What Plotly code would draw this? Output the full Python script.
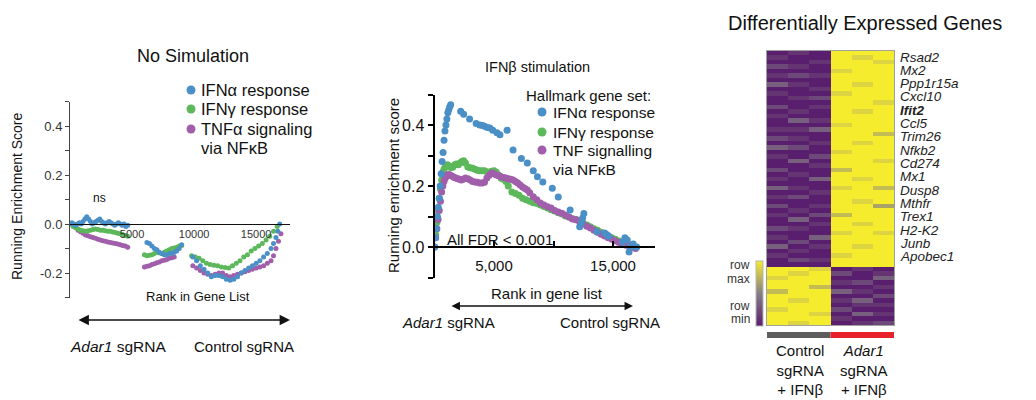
import plotly.graph_objects as go

W, H = 1036, 400
OFF = 8  # page body margin offset in the browser
def fx(p): return (p - OFF) / W
def fy(p): return 1 - (p - OFF) / H

FONT = "Liberation Sans, Arial, sans-serif"
BLUE, GREEN, PURPLE = "#4a8fc6", "#5cb85a", "#a15eab"

# ---------------- Panel 1: No stimulation (rank, running ES) ----------------
p1_blue = [(0,0.0),(150,0.005),(300,0.0),(450,-0.005),(600,0.0),(750,0.005),(900,0.0),(1050,0.01),
           (1200,0.02),(1350,0.03),(1500,0.02),(1650,0.01),(1800,0.0),(1950,0.005),(2100,0.01),(2250,0.015),
           (2400,0.02),(2550,0.01),(2700,0.005),(2850,0.0),(3000,0.005),(3150,0.01),(3300,0.005),(3450,0.0),
           (3600,-0.005),(3750,0.0),(3900,0.005),(4050,0.0),(4200,-0.005),(4350,0.0),(4500,-0.01),(4650,-0.005),
           (6200,-0.075),(6400,-0.08),(6600,-0.09),(6800,-0.1),(7000,-0.105),(7200,-0.115),(7400,-0.12),
           (7600,-0.125),(7800,-0.125),(8000,-0.12),(8200,-0.12),(8400,-0.115),(8600,-0.11),(8800,-0.1),(9000,-0.085),
           (9900,-0.135),(10200,-0.15),(10500,-0.17),(10800,-0.185),(11100,-0.2),(11400,-0.215),(11700,-0.21),
           (12000,-0.21),(12300,-0.215),(12600,-0.225),(12900,-0.23),(13200,-0.225),(13500,-0.215),(13800,-0.2),
           (14100,-0.19),(14400,-0.18),(14700,-0.17),(15000,-0.16),(15300,-0.15),(15600,-0.135),(15900,-0.12),
           (16200,-0.1),(16400,-0.08),(16600,-0.055),(16750,-0.03),(16900,0.0)]
p1_green = [(250,-0.01),(450,-0.015),(650,-0.02),(850,-0.025),(1050,-0.028),(1250,-0.03),(1450,-0.028),
            (1650,-0.025),(1850,-0.022),(2050,-0.02),(2250,-0.022),(2450,-0.025),(2650,-0.025),(2850,-0.028),
            (3050,-0.03),(3250,-0.03),(3450,-0.033),(3650,-0.035),(3850,-0.038),(4050,-0.04),(4250,-0.043),
            (4450,-0.047),(4650,-0.05),
            (6000,-0.125),(6200,-0.13),(6400,-0.128),(6600,-0.125),(6800,-0.12),(7000,-0.115),(7200,-0.118),
            (7400,-0.12),(7600,-0.115),(7800,-0.11),(8000,-0.105),(8200,-0.1),(8400,-0.098),(8600,-0.095),
            (8800,-0.09),(9000,-0.088),
            (9800,-0.13),(10100,-0.135),(10400,-0.14),(10700,-0.15),(11000,-0.16),(11300,-0.165),(11600,-0.168),
            (11900,-0.17),(12200,-0.175),(12500,-0.178),(12800,-0.18),(13100,-0.17),(13400,-0.16),(13700,-0.15),
            (14000,-0.135),(14300,-0.125),(14600,-0.11),(14900,-0.1),(15200,-0.09),(15500,-0.08),(15800,-0.065),
            (16100,-0.05),(16400,-0.03),(16700,-0.01)]
p1_purple = [(650,-0.025),(850,-0.032),(1050,-0.038),(1250,-0.045),(1450,-0.048),(1650,-0.052),(1850,-0.055),
             (2050,-0.058),(2250,-0.062),(2450,-0.065),(2650,-0.068),(2850,-0.07),(3050,-0.073),(3250,-0.076),
             (3450,-0.078),(3650,-0.08),(3850,-0.082),(4050,-0.085),(4250,-0.088),(4450,-0.09),(4650,-0.095),
             (6000,-0.175),(6200,-0.172),(6400,-0.17),(6600,-0.165),(6800,-0.162),(7000,-0.158),(7200,-0.155),
             (7400,-0.15),(7600,-0.148),(7800,-0.145),(8000,-0.14),(8200,-0.138),(8400,-0.135),
             (9900,-0.17),(10200,-0.18),(10500,-0.19),(10800,-0.2),(11100,-0.205),(11400,-0.21),(11700,-0.205),
             (12000,-0.2),(12300,-0.2),(12600,-0.21),(12900,-0.215),(13200,-0.21),(13500,-0.205),(13800,-0.2),
             (14100,-0.195),(14400,-0.19),(14700,-0.185),(15000,-0.18),(15300,-0.175),(15600,-0.17),(15900,-0.16),
             (16200,-0.15),(16400,-0.13),(16600,-0.1),(16800,-0.07),(17000,-0.04)]

# ---------------- Panel 2: IFNb stimulation ----------------
p2_blue = [(0,0.0),(80,0.03),(160,0.06),(240,0.1),(320,0.13),(400,0.16),(480,0.2),(560,0.24),(640,0.28),
           (720,0.31),(800,0.35),(880,0.38),(960,0.4),(1040,0.42),(1120,0.44),(1200,0.45),(1280,0.46),(1360,0.466),
           (2200,0.445),(2450,0.435),(2950,0.42),(3500,0.405),(3800,0.4),(4050,0.398),(4250,0.395),(4450,0.392),
           (4650,0.39),(4900,0.383),(5250,0.375),(5500,0.368),(6100,0.383),(6600,0.318),(7300,0.29),(7800,0.275),
           (8300,0.25),(8650,0.23),(9100,0.213),(9900,0.193),(10400,0.164),(11400,0.121),(12200,0.066),
           (12350,0.08),(12450,0.095),(12550,0.11),(13650,0.05),(14300,0.046),(14500,0.04),(14650,0.035),
           (15800,0.016),(16000,0.03),(16200,0.023),(16350,-0.016),(16500,0.0),(16700,0.01),(17000,0.0)]
p2_green = [(0,0.0),(100,0.04),(200,0.08),(300,0.12),(400,0.16),(500,0.19),(600,0.22),(700,0.245),(800,0.255),
            (900,0.262),(1000,0.265),(1100,0.27),(1250,0.265),(1400,0.26),(1550,0.262),(1700,0.27),(1850,0.272),
            (2000,0.27),(2150,0.275),(2300,0.28),(2450,0.283),(2600,0.275),(2800,0.262),(3000,0.26),(3200,0.258),
            (3400,0.255),(3600,0.252),(3800,0.25),(4000,0.25),(4200,0.25),(4400,0.247),(4600,0.245),(4800,0.248),
            (5000,0.25),(5200,0.245),(5400,0.235),(5600,0.225),(5800,0.222),(6000,0.215),(6200,0.2),(6500,0.18),
            (6800,0.175),(7100,0.17),(7400,0.16),(7700,0.155),(8000,0.15),(8300,0.145),(8600,0.143),(8900,0.138),
            (9200,0.133),(9500,0.128),(9800,0.122),(10100,0.118),(10400,0.112),(10700,0.108),(11000,0.102),
            (11300,0.098),(11600,0.093),(11900,0.09),(12200,0.085),(12500,0.078),(12800,0.072),(13100,0.066),
            (13400,0.06),(13700,0.055),(14000,0.048),(14300,0.04),(14600,0.035),(14900,0.03),(15200,0.025),
            (15500,0.02),(15800,0.015),(16100,0.01),(16400,0.005),(16700,0.0)]
p2_purple = [(0,0.0),(100,0.03),(200,0.06),(300,0.09),(400,0.12),(500,0.15),(600,0.18),(700,0.2),(800,0.215),
             (900,0.225),(1000,0.232),(1100,0.236),(1200,0.238),(1350,0.235),(1500,0.232),(1650,0.228),
             (1800,0.226),(1950,0.224),(2100,0.222),(2250,0.22),(2400,0.222),(2600,0.226),(2800,0.224),
             (3000,0.22),(3200,0.215),(3400,0.213),(3600,0.212),(3800,0.21),(4000,0.21),(4200,0.212),(4400,0.226),
             (4600,0.235),(4800,0.243),(5000,0.24),(5200,0.236),(5400,0.234),(5600,0.23),(5800,0.228),(6000,0.226),
             (6200,0.224),(6400,0.222),(6600,0.22),(6800,0.215),(7000,0.21),(7200,0.203),(7400,0.197),(7600,0.192),
             (7800,0.187),(8000,0.178),(8300,0.165),(8600,0.155),(8900,0.144),(9200,0.138),(9500,0.132),
             (9800,0.128),(10100,0.12),(10400,0.115),(10700,0.111),(11000,0.105),(11300,0.098),(11600,0.092),
             (11900,0.089),(12200,0.082),(12500,0.075),(12800,0.068),(13100,0.062),(13400,0.055),(13700,0.048),
             (14000,0.042),(14300,0.036),(14600,0.03),(14900,0.025),(15200,0.02),(15500,0.015),(15800,0.01),
             (16100,0.006),(16400,0.003),(16700,0.0),(16900,-0.005)]

# ---------------- Panel 3: heatmap (0 = row min, 9 = row max) ----------------
heat_columns = ["Ctrl 1", "Ctrl 2", "Ctrl 3", "Adar1 1", "Adar1 2", "Adar1 3"]
heat_up_rows = [
    [0,1,0,9,9,9],[1,0,0,9,8,9],[0,0,1,9,9,8],[2,1,0,9,9,9],[0,0,0,8,9,9],[1,2,1,9,9,9],
    [0,0,0,9,9,9],[3,1,0,9,8,9],[0,0,1,9,9,9],[1,0,0,8,9,9],[0,1,2,9,9,9],[0,0,0,9,9,8],
    [2,0,1,9,9,9],[0,1,0,9,8,9],[1,0,0,9,9,9],[0,3,1,9,9,9],[0,0,0,8,9,9],[1,1,3,9,9,9],
    [0,0,0,9,9,7],[2,1,0,9,9,9],[0,0,1,9,8,9],[3,2,0,9,9,9],[0,0,0,8,9,9],[1,0,2,9,9,9],
    [0,3,0,9,9,8],[0,0,1,9,9,9],[2,0,0,7,9,9],[0,1,0,9,9,9],[1,0,3,9,8,9],[0,0,0,9,9,9],
    [3,1,0,8,9,7],[0,0,1,9,9,9],[1,2,0,9,9,9],[0,0,0,9,8,9],[2,0,1,9,9,6],[0,1,0,9,9,9],
    [1,0,2,7,9,9],[0,3,0,9,9,9],[0,0,1,9,8,9],[2,1,0,9,9,9],[0,0,0,8,9,8],[1,0,3,9,9,9],
    [0,2,0,9,9,9],[3,0,1,9,8,9],[0,1,0,9,9,9],[1,0,0,8,9,9],[0,2,1,9,9,9],[0,0,0,9,9,9]]
heat_down_rows = [
    [9,9,8,0,1,0],[9,8,9,2,0,1],[8,9,9,0,0,3],[9,9,9,1,2,0],[9,9,7,0,0,1],[7,9,9,3,1,0],
    [9,9,9,0,0,2],[9,8,9,1,3,0],[9,9,9,0,1,1],[8,9,9,2,0,0],[9,9,8,0,3,1],[9,9,9,1,0,0],
    [9,8,9,0,1,2]]
gene_labels = ["Rsad2","Mx2","Ppp1r15a","Cxcl10","<b>Ifit2</b>","Ccl5","Trim26","Nfkb2","Cd274",
               "Mx1","Dusp8","Mthfr","Trex1","H2-K2","Junb","Apobec1"]

legend1_labels = ["IFNα response", "IFNγ response", "TNFα signaling"]
legend2_labels = ["IFNα response", "IFNγ response", "TNF signalling"]

fig = go.Figure()

def add(series, color, size, xa, ya):
    fig.add_trace(go.Scatter(x=[p[0] for p in series], y=[p[1] for p in series], mode="markers",
                             marker=dict(color=color, size=size, line=dict(width=0)),
                             xaxis=xa, yaxis=ya, showlegend=False, hoverinfo="skip"))

add(p1_purple, PURPLE, 5, "x", "y")
add(p1_green, GREEN, 5, "x", "y")
add(p1_blue, BLUE, 5, "x", "y")
add(p2_green, GREEN, 7, "x2", "y2")
add(p2_purple, PURPLE, 7, "x2", "y2")
add(p2_blue, BLUE, 7, "x2", "y2")

z = heat_up_rows + heat_down_rows
fig.add_trace(go.Heatmap(
    z=z, x=list(range(len(heat_columns))), y=list(range(len(z))), zmin=0, zmax=9,
    colorscale=[[0, "#5a1e6e"], [0.5, "#857f86"], [1, "#f5ec2d"]],
    xaxis="x3", yaxis="y3", hoverinfo="skip", xgap=0, ygap=0,
    colorbar=dict(x=fx(756), xanchor="left", xpad=0, y=fy(293.5), yanchor="middle", ypad=0,
                  len=65, lenmode="pixels", thickness=7, thicknessmode="pixels",
                  showticklabels=False, ticks="", outlinewidth=1, outlinecolor="#b5b5b5")))

ann = []
def text(x, y, t, size=14, xanchor="center", yanchor="middle", color="#111", angle=0, align="center"):
    ann.append(dict(x=fx(x), y=fy(y), xref="paper", yref="paper", text=t, showarrow=False,
                    xanchor=xanchor, yanchor=yanchor, textangle=angle, align=align,
                    font=dict(family=FONT, size=size, color=color)))

# panel 1 texts
text(193, 56, "No Simulation", 18)
text(17, 196, "Running Enrichment Score", 14, angle=-90)
text(99, 198, "ns", 12)
text(198, 296, "Rank in Gene List", 13)
text(68, 346, "<i>Adar1</i> sgRNA", 15.5, xanchor="left")
text(296, 346, "Control sgRNA", 15, xanchor="right")
leg1_y = [90, 109, 129]
for lbl, yy in zip(legend1_labels, leg1_y):
    text(199, yy, lbl, 16.5, xanchor="left")
text(199, 148, "via NFκB", 16.5, xanchor="left")

# panel 2 texts
text(537, 67, "IFNβ stimulation", 14.5)
text(393, 186, "Running enrichment score", 15, angle=-90)
text(653, 95, "Hallmark gene set:", 15, xanchor="right")
leg2_y = [112, 132, 150]
for lbl, yy in zip(legend2_labels, leg2_y):
    text(551, yy, lbl, 15.5, xanchor="left")
text(551, 169, "via NFκB", 15.5, xanchor="left")
text(445, 239, "All FDR &lt; 0.001", 15, xanchor="left")
text(547, 293, "Rank in gene list", 15)
text(400, 322, "<i>Adar1</i> sgRNA", 15, xanchor="left")
text(662, 322, "Control sgRNA", 15, xanchor="right")

# panel 3 texts
text(865, 23, "Differentially Expressed Genes", 20)
for i, g in enumerate(gene_labels):
    text(898, 57 + i * 13.33, "<i>" + g + "</i>", 13.5, xanchor="left", color="#222")
text(752, 265, "row", 12, xanchor="right", color="#333")
text(752, 279, "max", 12, xanchor="right", color="#333")
text(752, 306, "row", 12, xanchor="right", color="#333")
text(752, 319, "min", 12, xanchor="right", color="#333")
text(800, 370, "Control<br>sgRNA<br>+ IFNβ", 15)
text(864, 370, "<i>Adar1</i><br>sgRNA<br>+ IFNβ", 15)

# arrows
for x0, x1, yy, w in [(77, 290, 320, 1.6), (450, 633, 306, 1.3)]:
    ann.append(dict(x=fx(x1), y=fy(yy), xref="paper", yref="paper", ax=-(x1 - x0), ay=0,
                    axref="pixel", ayref="pixel", text="", showarrow=True, arrowside="end+start",
                    arrowhead=2, arrowsize=1.3, arrowwidth=w, arrowcolor="#111", standoff=0, startstandoff=0))

shapes = []
def dot(cx, cy, r, color):
    shapes.append(dict(type="circle", xref="paper", yref="paper", x0=fx(cx - r), x1=fx(cx + r),
                       y0=fy(cy + r), y1=fy(cy - r), fillcolor=color, line=dict(width=0)))
for c, yy in zip([BLUE, GREEN, PURPLE], leg1_y):
    dot(191, yy, 4.5, c)
for c, yy in zip([BLUE, GREEN, PURPLE], leg2_y):
    dot(542, yy, 4.5, c)
# group bar under heatmap
shapes.append(dict(type="rect", xref="x3", yref="paper", x0=-0.5, x1=2.5, y0=fy(338), y1=fy(332),
                   fillcolor="#5e5e5e", line=dict(width=0)))
shapes.append(dict(type="rect", xref="x3", yref="paper", x0=2.5, x1=5.5, y0=fy(338), y1=fy(332),
                   fillcolor="#e8222b", line=dict(width=0)))

tickfont = dict(family=FONT, size=11, color="#333")
fig.update_layout(
    width=W, height=H, margin=dict(l=0, r=0, t=0, b=0), paper_bgcolor="white", plot_bgcolor="white",
    showlegend=False, annotations=ann, shapes=shapes, font=dict(family=FONT),
    xaxis=dict(domain=[fx(70), fx(290)], range=[0, 17730], anchor="free", position=fy(224),
               showline=True, linecolor="#111", linewidth=1, ticks="", showgrid=False, zeroline=False,
               tickvals=[5000, 10000, 15000], ticktext=["5000", "10000", "15000"], tickfont=tickfont),
    yaxis=dict(domain=[fy(297.5), fy(101.5)], range=[-0.3, 0.5], anchor="x", showline=True,
               linecolor="#444", linewidth=1, ticks="outside", ticklen=4, tickcolor="#444",
               showgrid=False, zeroline=False,
               tickvals=[-0.3, -0.2, -0.1, 0, 0.1, 0.2, 0.3, 0.4, 0.5],
               ticktext=["", "-0.2", "", "0.0", "", "0.2", "", "0.4", ""],
               tickfont=dict(family=FONT, size=13, color="#333")),
    xaxis2=dict(domain=[fx(434.5), fx(655)], range=[0, 18530], anchor="free", position=fy(247),
                showline=True, linecolor="#000", linewidth=2, ticks="inside", ticklen=5, tickwidth=2,
                tickcolor="#000", showgrid=False, zeroline=False, ticklabelstandoff=5,
                tickvals=[5000, 10000, 15000], ticktext=["5,000", "", "15,000"],
                tickfont=dict(family=FONT, size=15, color="#111")),
    yaxis2=dict(domain=[fy(277.5), fy(94.5)], range=[-0.1, 0.5], anchor="x2", showline=True,
                linecolor="#000", linewidth=2, ticks="outside", ticklen=5, tickwidth=2, tickcolor="#000",
                showgrid=False, zeroline=False,
                tickvals=[-0.1, 0, 0.1, 0.2, 0.3, 0.4, 0.5],
                ticktext=["", "0.0", "", "0.2", "", "0.4", ""],
                tickfont=dict(family=FONT, size=16, color="#111")),
    xaxis3=dict(domain=[fx(767), fx(894)], range=[-0.5, 5.5], anchor="y3", showline=True, mirror=True,
                linecolor="#a0a0a0", linewidth=1, showticklabels=False, ticks="", showgrid=False,
                zeroline=False),
    yaxis3=dict(domain=[fy(325), fy(51)], range=[len(z) - 0.5, -0.5], anchor="x3", showline=True,
                mirror=True, linecolor="#a0a0a0", linewidth=1, showticklabels=False, ticks="",
                showgrid=False, zeroline=False),
)

fig.write_html("out.html")
